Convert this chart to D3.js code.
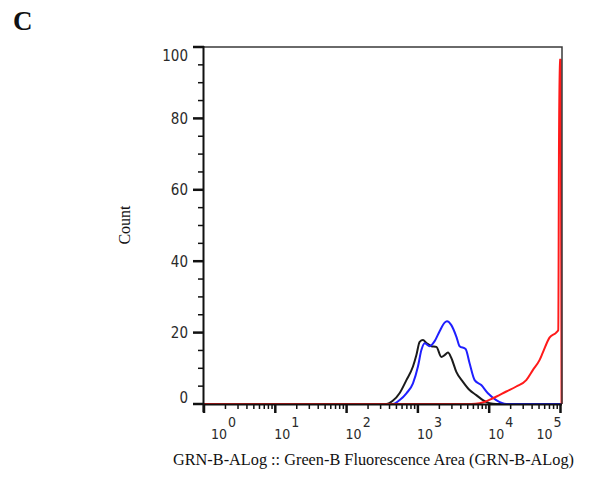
<!DOCTYPE html>
<html>
<head>
<meta charset="utf-8">
<script src="https://cdn.jsdelivr.net/npm/d3@7"></script>
<style>
  html, body { margin: 0; padding: 0; background: #fff; }
  svg { display: block; }
  .num { font-family: "DejaVu Sans Condensed", "DejaVu Sans", sans-serif; font-stretch: condensed; fill: #2a2a2a; }
  .ser { font-family: "Liberation Serif", "Times New Roman", serif; fill: #111; }
</style>
</head>
<body>
<svg id="chart" width="589" height="478"></svg>
<script>
// ---- data ----
const panelLabel = "C";
const xTitle = "GRN-B-ALog :: Green-B Fluorescence Area (GRN-B-ALog)";
const yTitle = "Count";
const yTicks = [0, 20, 40, 60, 80, 100];
const xExponents = [0, 1, 2, 3, 4, 5];

// black histogram: [fluorescence, count]
const blackSeries = [
  [1, 0], [362, 0], [444, 0.9], [556, 3.1], [690, 6.7], [853, 10.5], [953, 13.7],
  [1059, 17.4], [1178, 17.9], [1315, 17.1], [1545, 16.2], [1816, 16.0], [2133, 13.2],
  [2371, 13.7], [2642, 14.4], [2944, 12.9], [3459, 9.0], [4285, 6.2], [5309, 3.9],
  [6592, 2.5], [8166, 1.1], [10139, 0.2], [12560, 0], [105000, 0]
];
// blue histogram
const blueSeries = [
  [1, 0], [448, 0], [556, 1.1], [690, 3.0], [853, 5.8], [1002, 10.5], [1119, 15.1],
  [1245, 17.0], [1462, 16.2], [1718, 17.6], [2018, 20.4], [2371, 22.8], [2558, 23.2],
  [2944, 22.1], [3459, 18.9], [3847, 16.2], [4670, 15.4], [5309, 11.4], [6250, 6.7],
  [7745, 5.3], [9594, 3.0], [12560, 1.1], [17378, 0], [105000, 0]
];
// red histogram
const redSeries = [
  [1, 0], [5610, 0], [7345, 0.2], [11270, 1.6], [17378, 3.5], [23990, 4.9],
  [33110, 6.7], [40930, 9.5], [50800, 12.3], [56490, 14.4], [70150, 18.6],
  [87100, 20.0], [93000, 20.7], [96500, 96.4], [100800, 96.4], [103500, 0]
];

// ---- layout ----
const svg = d3.select("#chart");
const L = 204, R = 562, T = 47, B = 404;

const x = d3.scaleLog().domain([1, 105000]).range([L, R]);
const y = d3.scaleLinear().domain([0, 100]).range([B, T]);

// panel label
svg.append("text").attr("class", "ser")
  .attr("x", 13).attr("y", 30)
  .attr("font-size", 27).attr("font-weight", "bold")
  .text(panelLabel);

// curves
const line = d3.line()
  .x(d => x(d[0])).y(d => y(d[1]))
  .curve(d3.curveMonotoneX);

const series = [
  { data: blackSeries, color: "#1b1b1b" },
  { data: blueSeries, color: "#1f1fff" },
  { data: redSeries, color: "#ff1a1a" }
];
svg.append("g").selectAll("path").data(series).join("path")
  .attr("d", d => line(d.data))
  .attr("fill", "none")
  .attr("stroke", d => d.color)
  .attr("stroke-width", 2)
  .attr("stroke-linejoin", "round");

// frame (top / right)
svg.append("path")
  .attr("d", `M${L},${T}H${R}V${B}`)
  .attr("fill", "none").attr("stroke", "#3a3a3a").attr("stroke-width", 1.5);

// y axis
const yMinor = d3.range(0, 101, 5).filter(v => v % 20 !== 0);
const gy = svg.append("g");
gy.append("line").attr("x1", L - 0.5).attr("x2", L - 0.5).attr("y1", T - 1).attr("y2", B + 8)
  .attr("stroke", "#111").attr("stroke-width", 2);
gy.selectAll("line.maj").data(yTicks).join("line").attr("class", "maj")
  .attr("x1", L - 11).attr("x2", L).attr("y1", d => y(d)).attr("y2", d => y(d))
  .attr("stroke", "#111").attr("stroke-width", 2.5);
gy.selectAll("line.min").data(yMinor).join("line").attr("class", "min")
  .attr("x1", L - 6).attr("x2", L).attr("y1", d => y(d)).attr("y2", d => y(d))
  .attr("stroke", "#111").attr("stroke-width", 1.5);
gy.selectAll("text").data(yTicks).join("text").attr("class", "num")
  .attr("x", L - 16)
  .attr("y", d => Math.min(Math.max(y(d), T + 9), B - 6.5))
  .attr("dy", "0.36em")
  .attr("text-anchor", "end")
  .attr("font-size", 15)
  .text(d => d);

// x axis
const gx = svg.append("g");
gx.append("line").attr("x1", L - 1).attr("x2", R).attr("y1", B + 0.5).attr("y2", B + 0.5)
  .attr("stroke", "#111").attr("stroke-width", 2);
const xMajor = xExponents.map(e => Math.pow(10, e));
const xMinor = [];
xExponents.slice(0, -1).forEach(e => { for (let k = 2; k <= 9; k++) xMinor.push(k * Math.pow(10, e)); });
gx.selectAll("line.maj").data(xMajor).join("line").attr("class", "maj")
  .attr("x1", d => x(d)).attr("x2", d => x(d)).attr("y1", B).attr("y2", B + 9)
  .attr("stroke", "#111").attr("stroke-width", 2.5);
gx.selectAll("line.min").data(xMinor).join("line").attr("class", "min")
  .attr("x1", d => x(d)).attr("x2", d => x(d)).attr("y1", B).attr("y2", B + 5)
  .attr("stroke", "#111").attr("stroke-width", 1.5);
const xl = gx.selectAll("text").data(xExponents).join("text").attr("class", "num")
  .attr("font-size", 14)
  .attr("y", 439)
  .attr("x", (d, i) => i === 0 ? x(1) + 7 : (i === xExponents.length - 1 ? x(Math.pow(10, d)) + 1 : x(Math.pow(10, d)) - 1))
  .attr("text-anchor", (d, i) => i === xExponents.length - 1 ? "end" : "start");
xl.append("tspan").text("10");
xl.append("tspan").attr("dx", 1).attr("dy", -12).text(d => d);

// axis titles
svg.append("text").attr("class", "ser")
  .attr("x", 373.5).attr("y", 465)
  .attr("text-anchor", "middle").attr("font-size", 16.3)
  .text(xTitle);
svg.append("text").attr("class", "ser")
  .attr("transform", "translate(130,225) rotate(-90)")
  .attr("text-anchor", "middle").attr("font-size", 16)
  .text(yTitle);
</script>
</body>
</html>
